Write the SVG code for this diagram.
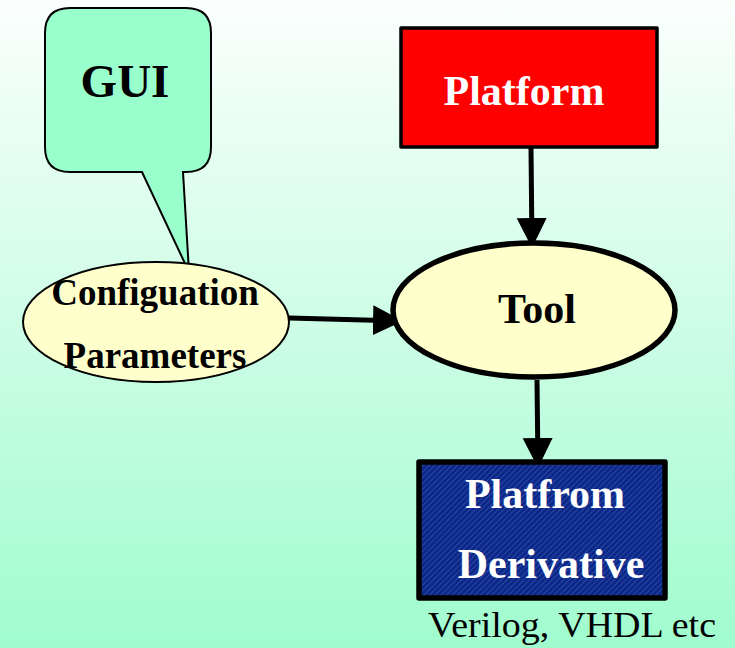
<svg xmlns="http://www.w3.org/2000/svg" width="735" height="648" viewBox="0 0 735 648">
  <defs>
    <linearGradient id="bg" x1="0" y1="0" x2="0" y2="1">
      <stop offset="0" stop-color="#fbfffd"/>
      <stop offset="1" stop-color="#a0fcce"/>
    </linearGradient>
    <pattern id="hatch" width="4" height="4" patternUnits="userSpaceOnUse" patternTransform="rotate(-45)">
      <rect width="4" height="4" fill="#0b2889"/>
      <rect width="4" height="1" fill="#2a47a3"/>
    </pattern>
    <marker id="arrow" markerUnits="userSpaceOnUse" markerWidth="32" markerHeight="32" refX="29" refY="15" orient="auto">
      <path d="M0,0 L30,15 L0,30 Z" fill="#000"/>
    </marker>
    <style>
      .bold { font-family: "Liberation Serif", "Times New Roman", serif; font-weight: bold; }
      .plain { font-family: "Liberation Serif", "Times New Roman", serif; }
      .edge { stroke: #000; stroke-width: 5; fill: none; marker-end: url(#arrow); }
    </style>
  </defs>

  <rect width="735" height="648" fill="url(#bg)"/>

  <!-- connectors -->
  <g id="connectors">
    <path class="edge" d="M531,148 L532,247"/>
    <path class="edge" d="M289,318 L402,321"/>
    <path class="edge" d="M537,380 L538,467"/>
  </g>

  <!-- callout bubble -->
  <g id="gui">
    <path d="M70,8 H186 Q211,8 211,33 V147 Q211,172 186,172 H183 L189,272 L142,172 H70 Q45,172 45,147 V33 Q45,8 70,8 Z"
          fill="#99ffcc" stroke="#000" stroke-width="2"/>
    <text class="bold" x="125" y="97" font-size="47" text-anchor="middle" fill="#000">GUI</text>
  </g>

  <g id="platform">
    <rect x="401" y="28" width="256" height="119" fill="#ff0000" stroke="#000" stroke-width="3.5" stroke-linejoin="round"/>
    <text class="bold" x="524" y="105" font-size="42" text-anchor="middle" fill="#fff">Platform</text>
  </g>

  <g id="config">
    <ellipse cx="156" cy="322" rx="133" ry="60" fill="#ffffcc" stroke="#000" stroke-width="2"/>
    <text class="bold" x="155" y="305" font-size="37" text-anchor="middle" fill="#000">Configuation</text>
    <text class="bold" x="155" y="368" font-size="37" text-anchor="middle" fill="#000">Parameters</text>
  </g>

  <g id="tool">
    <ellipse cx="534" cy="310" rx="141" ry="67" fill="#ffffcc" stroke="#000" stroke-width="5.5"/>
    <text class="bold" x="537" y="323" font-size="42" text-anchor="middle" fill="#000">Tool</text>
  </g>

  <g id="derivative">
    <rect x="419" y="462" width="246" height="136" fill="url(#hatch)" stroke="#000" stroke-width="5.5" stroke-linejoin="round"/>
    <text class="bold" x="545" y="508" font-size="42" text-anchor="middle" fill="#fff">Platfrom</text>
    <text class="bold" x="551" y="578" font-size="42" text-anchor="middle" fill="#fff">Derivative</text>
  </g>

  <text class="plain" x="428" y="637" font-size="35" textLength="288" lengthAdjust="spacingAndGlyphs" fill="#000">Verilog, VHDL etc</text>
</svg>
